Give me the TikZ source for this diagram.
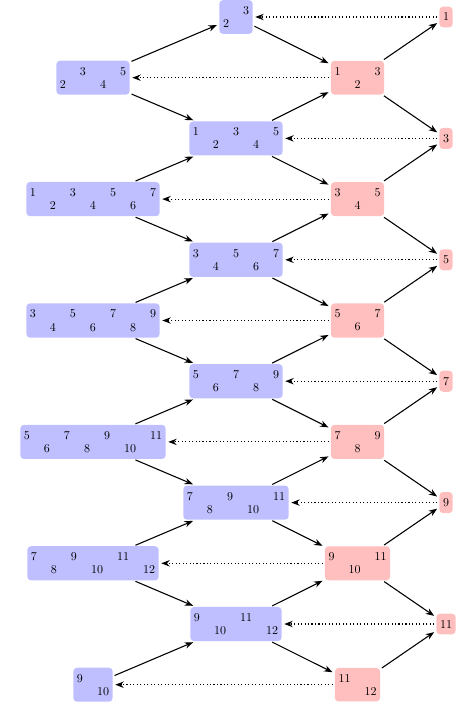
\documentclass[tikz,border=0pt]{standalone}
\usetikzlibrary{matrix,arrows.meta}
\begin{document}
\begin{tikzpicture}[x=0.83333pt,y=-0.83333pt,
  blkbase/.style={matrix of nodes, rounded corners=3pt, inner xsep=3pt, inner ysep=5.3pt,
    column sep=11.67pt, row sep=4pt, nodes={inner sep=0pt, anchor=base}},
  bbox/.style={blkbase, fill=blue!25},
  rbox/.style={blkbase, fill=red!25},
  fbox/.style={fill=red!25, rounded corners=3pt, inner xsep=3pt, inner ysep=5.3pt},
  arr/.style={line width=0.9pt, -{Stealth}, shorten >=2pt, shorten <=1.5pt},
  dotarr/.style={line width=0.9pt, dotted, -{Stealth}, shorten >=2pt, shorten <=1.5pt}]
\useasboundingbox (0,0) rectangle (465,705);
% centre column (blue)
\matrix (B0) [bbox] at (236,17) { & 3 \\ 2 & \\ };
\matrix (B2) [bbox] at (236,138.4) { 1 & & 3 & & 5 \\ & 2 & & 4 & \\ };
\matrix (B4) [bbox] at (236,259.8) { 3 & & 5 & & 7 \\ & 4 & & 6 & \\ };
\matrix (B6) [bbox] at (236,381.2) { 5 & & 7 & & 9 \\ & 6 & & 8 & \\ };
\matrix (B8) [bbox] at (236,502.6) { 7 & & 9 & & 11 \\ & 8 & & 10 & \\ };
\matrix (B10) [bbox] at (236,624) { 9 & & 11 & \\ & 10 & & 12 \\ };
% left column (blue)
\matrix (L1) [bbox] at (93,77.7) { & 3 & & 5 \\ 2 & & 4 & \\ };
\matrix (L3) [bbox] at (93,199.1) { 1 & & 3 & & 5 & & 7 \\ & 2 & & 4 & & 6 & \\ };
\matrix (L5) [bbox] at (93,320.5) { 3 & & 5 & & 7 & & 9 \\ & 4 & & 6 & & 8 & \\ };
\matrix (L7) [bbox] at (93,441.9) { 5 & & 7 & & 9 & & 11 \\ & 6 & & 8 & & 10 & \\ };
\matrix (L9) [bbox] at (93,563.3) { 7 & & 9 & & 11 & \\ & 8 & & 10 & & 12 \\ };
\matrix (L11) [bbox] at (93,684.7) { 9 & \\ & 10 \\ };
% right-centre column (red)
\matrix (R1) [rbox] at (357.5,77.7) { 1 & & 3 \\ & 2 & \\ };
\matrix (R3) [rbox] at (357.5,199.1) { 3 & & 5 \\ & 4 & \\ };
\matrix (R5) [rbox] at (357.5,320.5) { 5 & & 7 \\ & 6 & \\ };
\matrix (R7) [rbox] at (357.5,441.9) { 7 & & 9 \\ & 8 & \\ };
\matrix (R9) [rbox] at (357.5,563.3) { 9 & & 11 \\ & 10 & \\ };
\matrix (R11) [rbox] at (357.5,684.7) { 11 & \\ & 12 \\ };
% far right column (red)
\node[fbox] (F0) at (446,17) {1};
\node[fbox] (F2) at (446,138.4) {3};
\node[fbox] (F4) at (446,259.8) {5};
\node[fbox] (F6) at (446,381.2) {7};
\node[fbox] (F8) at (446,502.6) {9};
\node[fbox] (F10) at (446,624) {11};
% connectors
\foreach \r/\a/\b in {1/0/2, 3/2/4, 5/4/6, 7/6/8, 9/8/10} {
  \draw[arr] (L\r) -- (B\a);
  \draw[arr] (L\r) -- (B\b);
  \draw[arr] (B\a) -- (R\r);
  \draw[arr] (B\b) -- (R\r);
  \draw[arr] (R\r) -- (F\a);
  \draw[arr] (R\r) -- (F\b);
  \draw[dotarr] (R\r) -- (L\r);
}
\draw[arr] (L11) -- (B10);
\draw[arr] (B10) -- (R11);
\draw[arr] (R11) -- (F10);
\draw[dotarr] (R11) -- (L11);
\foreach \e in {0,2,4,6,8,10} {
  \draw[dotarr] (F\e) -- (B\e);
}
\end{tikzpicture}
\end{document}
